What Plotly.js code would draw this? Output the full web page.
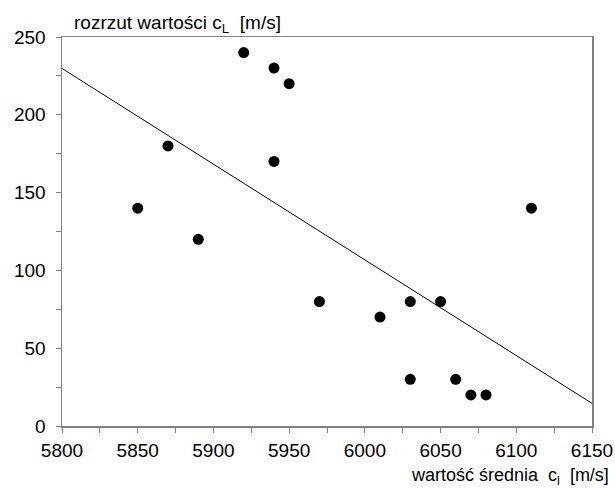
<!DOCTYPE html>
<html>
<head>
<meta charset="utf-8">
<script src="https://cdn.plot.ly/plotly-3.0.1.min.js"></script>
<style>html,body{margin:0;padding:0;background:#fff;}#chart{width:615px;height:488px;}</style>
</head>
<body>
<div id="chart"></div>
<script>
const meanValues = [5850, 5870, 5890, 5920, 5940, 5950, 5940, 5970, 6010, 6030, 6050, 6030, 6060, 6070, 6080, 6110];
const spreadValues = [140, 180, 120, 240, 230, 220, 170, 80, 70, 80, 80, 30, 30, 20, 20, 140];
const xRange = [5800, 6150];
const yRange = [0, 250];

// least-squares fit through the data
const n = meanValues.length;
const mx = meanValues.reduce((a, b) => a + b, 0) / n;
const my = spreadValues.reduce((a, b) => a + b, 0) / n;
let sxy = 0, sxx = 0;
for (let i = 0; i < n; i++) { sxy += (meanValues[i] - mx) * (spreadValues[i] - my); sxx += (meanValues[i] - mx) ** 2; }
const slope = sxy / sxx;
const intercept = my - slope * mx;
const fitX = xRange.slice();
const fitY = fitX.map(x => intercept + slope * x);

const font = {family: 'Liberation Sans, Arial, sans-serif', color: '#000'};
const data = [
  {x: fitX, y: fitY, mode: 'lines', line: {color: '#000', width: 1}, hoverinfo: 'skip'},
  {x: meanValues, y: spreadValues, mode: 'markers', marker: {color: '#000', size: 11}}
];
const axisCommon = {
  showline: true, linecolor: '#808080', linewidth: 1.5, mirror: true,
  ticks: 'outside', ticklen: 5, tickcolor: '#808080', tickwidth: 1,
  showgrid: false, zeroline: false,
  tickfont: Object.assign({size: 19}, font)
};
const layout = {
  width: 615, height: 488,
  margin: {l: 62, r: 23, t: 37, b: 62},
  paper_bgcolor: '#fff', plot_bgcolor: '#fff',
  showlegend: false,
  font: font,
  xaxis: Object.assign({}, axisCommon, {range: xRange, dtick: 50, tick0: 5800, ticklabelstandoff: 2,
    minor: {ticks: 'outside', dtick: 25, ticklen: 5, tickcolor: '#808080'}}),
  yaxis: Object.assign({}, axisCommon, {range: yRange, dtick: 50, tick0: 0, ticklabelstandoff: 6,
    minor: {ticks: 'outside', dtick: 25, ticklen: 5, tickcolor: '#808080'}}),
  annotations: [
    {text: 'rozrzut wartości c<sub>L</sub>  [m/s]', xref: 'paper', yref: 'paper', x: 0.018, y: 1, xanchor: 'left', yanchor: 'bottom', yshift: -1, showarrow: false, font: Object.assign({size: 19}, font)},
    {text: 'wartość średnia  c<sub>l</sub>  [m/s]', xref: 'paper', yref: 'paper', x: 1.036, y: 0, xanchor: 'right', yanchor: 'top', yshift: -37, showarrow: false, font: Object.assign({size: 18}, font)}
  ]
};
Plotly.newPlot('chart', data, layout, {displayModeBar: false, staticPlot: true});
</script>
</body>
</html>
